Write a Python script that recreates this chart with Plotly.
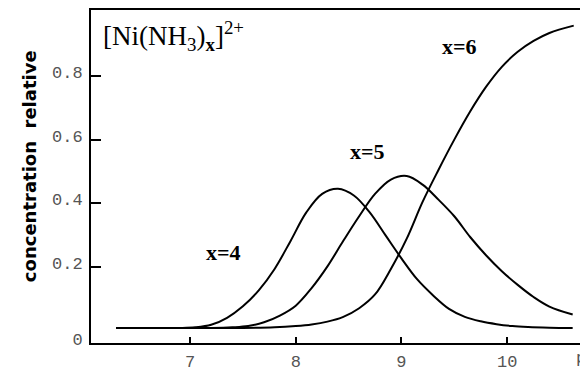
import plotly.graph_objects as go

# --- data ---
ph_x4 = [6.3, 6.6, 6.9, 7.05, 7.2, 7.35, 7.5, 7.65, 7.8, 7.95, 8.1, 8.25, 8.4, 8.55,
         8.7, 8.85, 9.0, 9.15, 9.3, 9.45, 9.6, 9.75, 9.9, 10.05, 10.2, 10.4, 10.62]
c_x4 = [0.010, 0.010, 0.010, 0.012, 0.020, 0.042, 0.078, 0.128, 0.195, 0.282, 0.372, 0.430, 0.446, 0.425,
        0.372, 0.300, 0.228, 0.162, 0.112, 0.070, 0.045, 0.031, 0.022, 0.016, 0.013, 0.011, 0.010]

ph_x5 = [6.3, 6.8, 7.2, 7.4, 7.55, 7.7, 7.85, 8.0, 8.15, 8.3, 8.45, 8.6, 8.75, 8.9, 9.05,
         9.2, 9.35, 9.5, 9.65, 9.8, 9.95, 10.1, 10.25, 10.4, 10.62]
c_x5 = [0.010, 0.010, 0.010, 0.012, 0.016, 0.028, 0.049, 0.080, 0.135, 0.203, 0.283, 0.360, 0.430, 0.475, 0.486,
        0.459, 0.412, 0.360, 0.295, 0.238, 0.188, 0.145, 0.107, 0.077, 0.052]

ph_x6 = [6.3, 7.0, 7.5, 7.8, 8.0, 8.15, 8.3, 8.45, 8.6, 8.75, 8.9, 9.05, 9.2, 9.35,
         9.5, 9.65, 9.8, 9.95, 10.1, 10.25, 10.4, 10.63]
c_x6 = [0.010, 0.010, 0.010, 0.012, 0.016, 0.021, 0.030, 0.045, 0.072, 0.115, 0.195, 0.290, 0.405, 0.505,
        0.600, 0.688, 0.765, 0.828, 0.875, 0.909, 0.934, 0.957]

x_tick_vals = [7, 8, 9, 10]
x_tick_text = ["7", "8", "9", "10"]
y_tick_vals = [-0.037, 0.2, 0.4, 0.6, 0.8]
y_tick_text = ["0", "0.2", "0.4", "0.6", "0.8"]

series_labels = ["x=4", "x=5", "x=6"]

fig = go.Figure()
for xs, ys, name in [(ph_x4, c_x4, series_labels[0]),
                     (ph_x5, c_x5, series_labels[1]),
                     (ph_x6, c_x6, series_labels[2])]:
    fig.add_trace(go.Scatter(x=xs, y=ys, mode="lines", name=name,
                             line=dict(color="black", width=2, shape="spline", smoothing=1.0),
                             showlegend=False, hoverinfo="skip"))

tick_font = dict(family="Liberation Mono, DejaVu Sans Mono, monospace", size=17, color="#555555")

# the page body adds an 8px offset, so the figure is 8px smaller than the window
fig.update_layout(
    width=580, height=364,
    margin=dict(l=83, r=0, t=1, b=24),
    paper_bgcolor="white", plot_bgcolor="white",
    xaxis=dict(range=[6.063, 10.765], tickvals=x_tick_vals, ticktext=x_tick_text,
               ticks="inside", ticklen=6, tickwidth=1.5, tickcolor="black",
               showline=True, linecolor="black", linewidth=2, mirror=True,
               showgrid=False, zeroline=False, tickfont=tick_font, ticklabelstandoff=2),
    yaxis=dict(range=[-0.037, 1.006], tickvals=y_tick_vals, ticktext=y_tick_text,
               ticks="inside", ticklen=10, tickwidth=1.5, tickcolor="black",
               showline=True, linecolor="black", linewidth=2, mirror=False,
               showgrid=False, zeroline=False, tickfont=tick_font, ticklabelstandoff=3,
               ticklabelshift=-4),
)

label_font = dict(family="Liberation Serif, Times New Roman, serif", size=22, color="black")
label_pos = [(7.32, 0.248), (8.68, 0.563), (9.55, 0.892)]
for (lx, ly), txt in zip(label_pos, series_labels):
    fig.add_annotation(x=lx, y=ly, xref="x", yref="y", text="<b>" + txt + "</b>",
                       showarrow=False, font=label_font)

# title inside plot
fig.add_annotation(x=0.02, y=0.985, xref="paper", yref="paper", xanchor="left", yanchor="top",
                   text="[Ni(NH<sub>3</sub>)<sub><b>x</b></sub>]<sup>2+</sup>",
                   showarrow=False,
                   font=dict(family="Liberation Serif, Times New Roman, serif", size=27, color="black"))

# y axis title
fig.add_annotation(x=-0.15, y=0.531, xref="paper", yref="paper",
                   text="<b>concentration  relative</b>",
                   textangle=-90, showarrow=False,
                   font=dict(family="DejaVu Sans, sans-serif", size=18, color="black"))

# x axis title (cut at the edge)
fig.add_annotation(x=0.972, y=-0.046, xref="paper", yref="paper", xanchor="left", yanchor="middle",
                   text="pH", showarrow=False, font=tick_font)

fig.write_html("out.html")
